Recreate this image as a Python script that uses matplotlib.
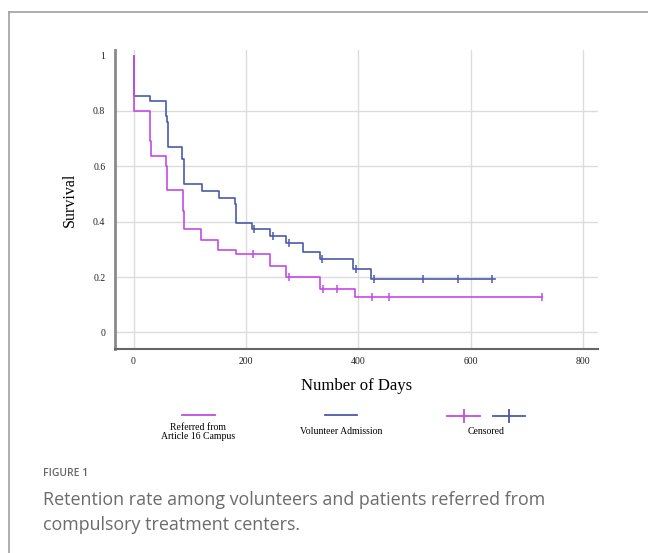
# Kaplan-Meier style retention curves, referred vs volunteer admissions
import numpy as np
import matplotlib.pyplot as plt
from matplotlib.lines import Line2D

# ---- data ----
ref_start = 1.0
ref_times = [0, 30, 31, 58, 60, 88, 90, 120, 150, 182, 242, 271, 331, 393]
ref_surv = [0.8, 0.69, 0.636, 0.60, 0.514, 0.44, 0.372, 0.335, 0.299, 0.282, 0.239, 0.2, 0.158, 0.127]
ref_censor = [213, 276, 337, 362, 424, 454, 727]
ref_end = 727

vol_start = 1.0
vol_times = [0, 30, 58, 60, 61, 87, 89, 122, 152, 180, 183, 210, 242, 271, 301, 331, 390, 422]
vol_surv = [0.853, 0.834, 0.78, 0.76, 0.67, 0.628, 0.535, 0.511, 0.487, 0.463, 0.396, 0.372,
            0.347, 0.322, 0.292, 0.264, 0.23, 0.194]
vol_censor = [214, 248, 277, 335, 396, 427, 514, 577, 637]
vol_end = 642

x_ticks = [0, 200, 400, 600, 800]
y_ticks = [0, 0.2, 0.4, 0.6, 0.8, 1]
y_ticklabels = ["0", "0.2", "0.4", "0.6", "0.8", "1"]

C_REF = "#c44ae8"
C_VOL = "#4a5bab"
SERIF = "Liberation Serif"

W, H = 648, 553


def steps(start, times, surv, end):
    x = [0] + list(times) + [end]
    y = [start] + list(surv) + [surv[-1]]
    return np.array(x), np.array(y)


def surv_at(times, surv, start, t):
    s = start
    for ti, si in zip(times, surv):
        if ti <= t:
            s = si
    return s


def fx(px):
    return px / W


def fy(py):
    return 1 - py / H


fig = plt.figure(figsize=(W / 100, H / 100), dpi=100)
ax = fig.add_axes([fx(115), fy(349), fx(598) - fx(115), fy(50) - fy(349)])

# volunteer drawn first so the referred line sits on top at t=0
for start, times, surv, end, cens, col in [
    (vol_start, vol_times, vol_surv, vol_end, vol_censor, C_VOL),
    (ref_start, ref_times, ref_surv, ref_end, ref_censor, C_REF),
]:
    x, y = steps(start, times, surv, end)
    ax.step(x, y, where="post", color=col, lw=1.2, zorder=3)
    cy = [surv_at(times, surv, start, t) for t in cens]
    ax.plot(cens, cy, ls="none", marker="|", ms=6, mew=1.1, color=col, zorder=4)

ax.set_xlim(-33, 826)
ax.set_ylim(-0.06, 1.02)
ax.set_xticks(x_ticks)
ax.set_yticks(y_ticks)
ax.set_yticklabels(y_ticklabels)
ax.grid(True, color="#dcdcdc", lw=1)
ax.set_axisbelow(True)
ax.yaxis.get_gridlines()[-1].set_visible(False)
ax.tick_params(length=0, labelsize=7, colors="#222222")
ax.tick_params(axis="y", pad=7)
ax.tick_params(axis="x", pad=5.5)
for lab in ax.get_xticklabels() + ax.get_yticklabels():
    lab.set_family(SERIF)

for s in ["top", "right"]:
    ax.spines[s].set_visible(False)
ax.spines["left"].set_color("#8a8a8a")
ax.spines["left"].set_linewidth(2)
ax.spines["bottom"].set_color("#666666")
ax.spines["bottom"].set_linewidth(1.5)

ax.set_xlabel("Number of Days", family=SERIF, fontsize=12, labelpad=9)
ax.set_ylabel("Survival", family=SERIF, fontsize=11.5, labelpad=11)

# ---- legend below the plot, text under each swatch ----
def seg(x0, x1, y, col):
    fig.add_artist(Line2D([fx(x0), fx(x1)], [fy(y), fy(y)], color=col, lw=1.3))

seg(182, 215, 415, C_REF)
fig.text(fx(198), fy(432), "Referred from\nArticle 16 Campus", ha="center", va="center",
         family=SERIF, fontsize=7, linespacing=1.05)
seg(325, 357, 415, C_VOL)
fig.text(fx(341), fy(432), "Volunteer Admission", ha="center", va="center",
         family=SERIF, fontsize=7)
seg(447, 480, 416, C_REF)
fig.add_artist(Line2D([fx(463.5)], [fy(416)], marker="|", ms=9.5, mew=1.3, color=C_REF))
seg(493, 525, 416, C_VOL)
fig.add_artist(Line2D([fx(509)], [fy(416)], marker="|", ms=9.5, mew=1.3, color=C_VOL))
fig.text(fx(486), fy(432), "Censored", ha="center", va="center", family=SERIF, fontsize=7)

# ---- outer frame and caption ----
fig.add_artist(Line2D([fx(9), fx(648)], [fy(12), fy(12)], color="#a0a0a0", lw=1.2))
fig.add_artist(Line2D([fx(9), fx(9)], [fy(12), fy(553)], color="#a0a0a0", lw=1.2))

fig.text(fx(43), fy(473), "FIGURE 1", ha="left", va="center", family="Open Sans",
         fontsize=7.5, color="#666666", weight="semibold")
fig.text(fx(43), fy(500), "Retention rate among volunteers and patients referred from",
         ha="left", va="center", family="Open Sans", fontsize=12.9, color="#6b6b6b")
fig.text(fx(43), fy(525), "compulsory treatment centers.",
         ha="left", va="center", family="Open Sans", fontsize=12.9, color="#6b6b6b")

fig.savefig("out.png", dpi=100, facecolor="white")
